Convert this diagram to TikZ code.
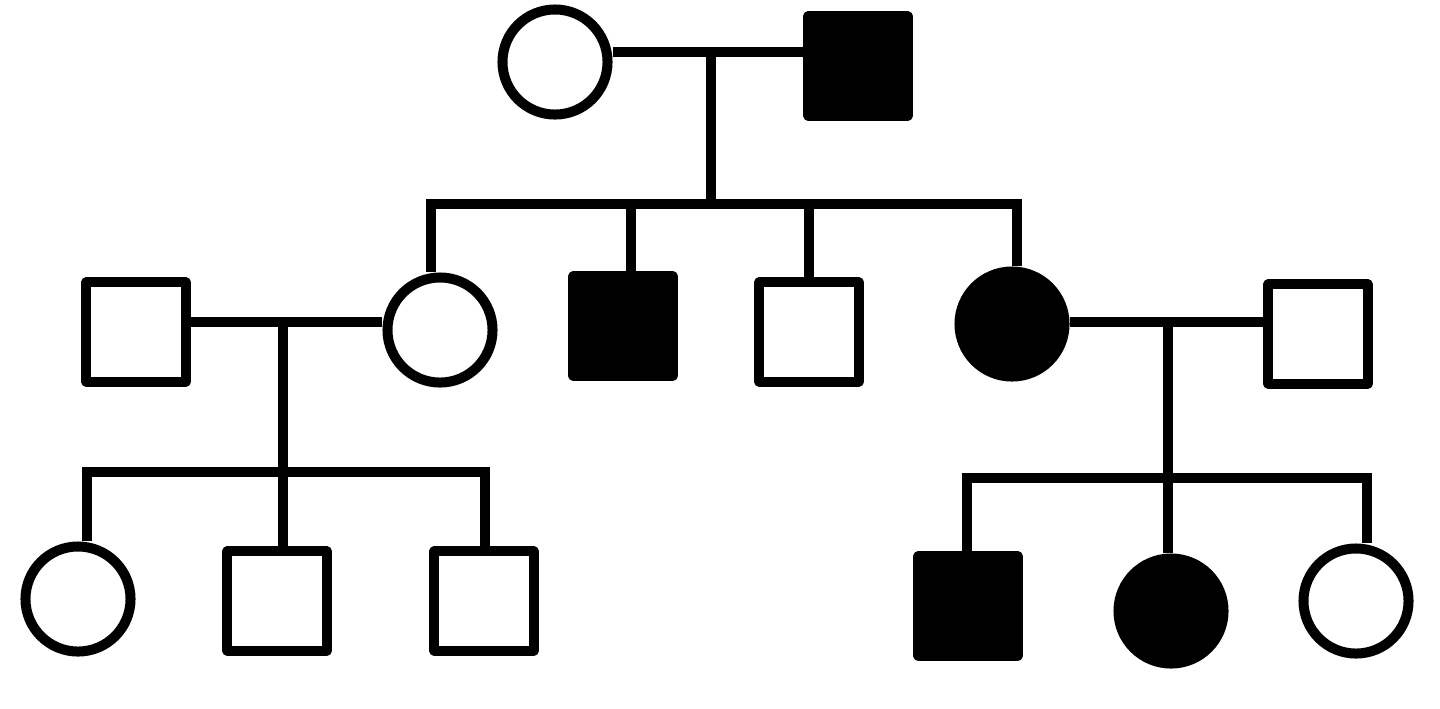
\documentclass[tikz,border=0pt]{standalone}

\tikzset{
  male/.style={draw, rectangle, line join=round, minimum size=0.99cm, inner sep=0pt},
  female/.style={draw, circle, minimum size=1.05cm, inner sep=0pt},
  affected/.style={fill=black},
}

\begin{document}
\begin{tikzpicture}[x=0.01cm, y=-0.01cm, line width=0.1cm]
\useasboundingbox (0,0) rectangle (1440,708);

% generation I
\node[female] (I1) at (555,62) {};
\node[male, affected] (I2) at (858,66) {};
\coordinate (c1) at (711,52);
\draw (I1.east |- c1) -- (I2.west |- c1);

% generation II
\node[male] (II1) at (136,332) {};
\node[female] (II2) at (440,330) {};
\node[male, affected] (II3) at (623,326) {};
\node[male] (II4) at (809,332) {};
\node[female, affected] (II5) at (1012,324) {};
\node[male] (II6) at (1318,334) {};

\coordinate (dII2) at (431,204);
\coordinate (dII3) at (631,204);
\coordinate (dII4) at (809,204);
\coordinate (dII5) at (1017,204);
\draw (c1) -- (c1 |- dII2);
\draw (II2.north -| dII2) -- (dII2) -- (dII5) -- (II5.north -| dII5);
\foreach \n in {II3, II4}
  \draw (d\n) -- (\n.north -| d\n);

\coordinate (c2) at (283,322);
\draw (II1.east |- c2) -- (II2.west |- c2);
\coordinate (c3) at (1168,322);
\draw (II5.east |- c3) -- (II6.west |- c3);

% generation III
\node[female] (III1) at (78,599) {};
\node[male] (III2) at (277,601) {};
\node[male] (III3) at (484,601) {};
\node[male, affected] (III4) at (968,606) {};
\node[female, affected] (III5) at (1171,611) {};
\node[female] (III6) at (1356,601) {};

\coordinate (dIII1) at (87,472);
\coordinate (dIII2) at (283,472);
\coordinate (dIII3) at (485,472);
\draw (c2) -- (dIII2);
\draw (III1.north -| dIII1) -- (dIII1) -- (dIII3) -- (III3.north -| dIII3);
\draw (dIII2) -- (III2.north -| dIII2);

\coordinate (dIII4) at (967,478);
\coordinate (dIII5) at (1168,478);
\coordinate (dIII6) at (1367,478);
\draw (c3) -- (dIII5);
\draw (III4.north -| dIII4) -- (dIII4) -- (dIII6) -- (III6.north -| dIII6);
\draw (dIII5) -- (III5.north -| dIII5);

\end{tikzpicture}
\end{document}
